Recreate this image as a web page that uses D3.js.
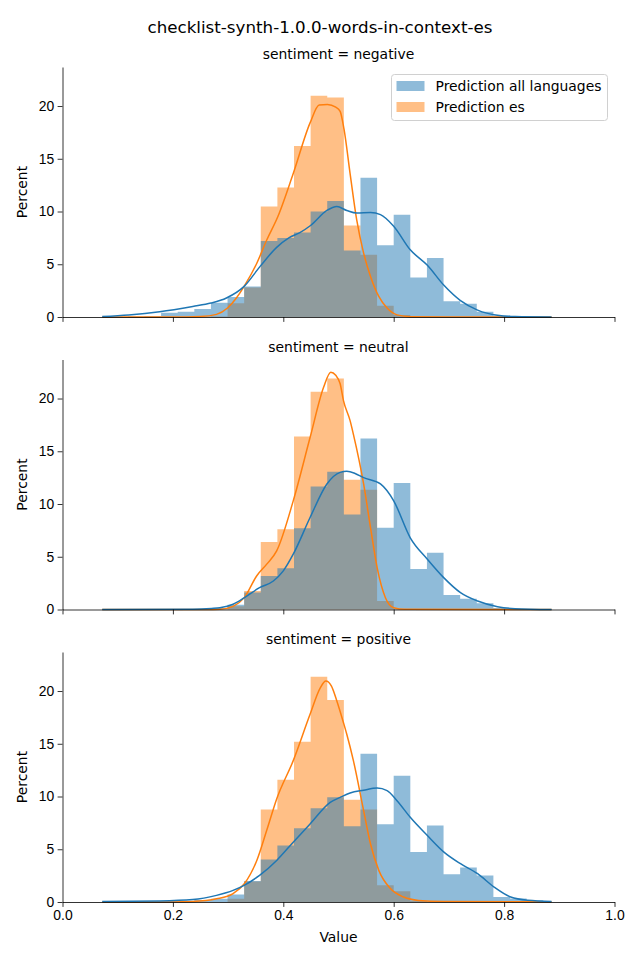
<!DOCTYPE html>
<html lang="en">
<head>
<meta charset="utf-8" />
<title>checklist-synth-1.0.0-words-in-context-es</title>
<style>
html,body{margin:0;background:#fff}
svg{display:block;font-family:"DejaVu Sans",sans-serif}
.axis text{font-size:13.9px;fill:#000}
.axis path,.axis line{stroke:#000;stroke-width:0.8px}
</style>
<script src="https://cdn.jsdelivr.net/npm/d3@7/dist/d3.min.js"></script>
</head>
<body>
<div id="chart"></div>
<script>
/* ---------------- data ---------------- */
const title = "checklist-synth-1.0.0-words-in-context-es";
const facets = ["negative", "neutral", "positive"];
const seriesNames = ["Prediction all languages", "Prediction es"];

// common bin edges (26 edges -> 25 bins)
const binEdges = [0.1184, 0.1485, 0.1786, 0.2087, 0.2388, 0.2689, 0.2990, 0.3291, 0.3592,
  0.3893, 0.4194, 0.4495, 0.4796, 0.5097, 0.5398, 0.5699, 0.6000, 0.6301, 0.6602,
  0.6903, 0.7204, 0.7505, 0.7806, 0.8107, 0.8408, 0.8709];

// percent per bin
const negAll = [0.05, 0.1, 0.4, 0.5, 0.75, 1.35, 1.9, 2.9, 7.2, 7.5, 8.0, 10.0, 11.0, 6.3, 13.2, 6.8, 9.7, 3.75, 5.6, 1.5, 1.25, 0.5, 0.15, 0.05, 0.02];
const negEs  = [0, 0, 0, 0, 0, 0.05, 1.3, 2.8, 10.47, 12.27, 16.2, 20.98, 20.8, 8.68, 5.9, 1.07, 0.2, 0, 0, 0, 0, 0, 0, 0, 0];
const neuAll = [0, 0, 0.02, 0.03, 0.05, 0.15, 0.45, 1.6, 3.18, 3.9, 7.7, 11.66, 13.06, 9.0, 16.2, 7.74, 12.0, 3.85, 5.37, 1.38, 1.03, 0.59, 0.15, 0.05, 0.02];
const neuEs  = [0, 0, 0, 0, 0, 0, 0.3, 1.75, 6.4, 7.6, 16.4, 20.65, 21.9, 12.3, 11.35, 0.8, 0.05, 0, 0, 0, 0, 0, 0, 0, 0];
const posAll = [0.1, 0.1, 0.1, 0.1, 0.2, 0.3, 0.7, 2.0, 4.03, 5.36, 7.0, 8.88, 9.92, 7.18, 14.05, 7.37, 11.98, 4.73, 7.25, 2.62, 3.28, 2.52, 0.47, 0.32, 0.16];
const posEs  = [0, 0, 0, 0, 0, 0, 0.3, 1.95, 8.76, 11.6, 15.2, 21.36, 19.16, 9.7, 8.76, 1.58, 1.01, 0.1, 0, 0, 0, 0, 0, 0, 0];

// KDE curves: [value, percent]
const negAllKde = [[0.072,0.05],[0.12,0.2],[0.176,0.5],[0.236,1.0],[0.269,1.32],[0.297,1.8],[0.329,2.9],[0.358,4.8],[0.388,6.6],[0.41,7.5],[0.43,8.0],[0.45,8.7],[0.479,10.1],[0.497,10.47],[0.515,10.1],[0.533,9.85],[0.558,9.9],[0.576,9.7],[0.6,8.6],[0.63,6.37],[0.661,4.9],[0.691,3.0],[0.721,1.55],[0.752,0.65],[0.788,0.16],[0.82,0.04],[0.886,0.0]];
const negEsKde  = [[0.072,0],[0.2,0],[0.25,0.05],[0.279,0.25],[0.299,0.85],[0.315,1.8],[0.329,2.9],[0.352,5.1],[0.37,7.3],[0.39,9.5],[0.418,13.6],[0.4485,18.4],[0.465,20.1],[0.48,20.15],[0.495,19.9],[0.503,19.5],[0.51,17.8],[0.521,13.6],[0.533,9.2],[0.5455,6.06],[0.558,3.85],[0.573,1.95],[0.588,0.85],[0.606,0.2],[0.63,0.03],[0.7,0],[0.886,0]];
const neuAllKde = [[0.072,0],[0.236,0.02],[0.27,0.1],[0.285,0.17],[0.309,0.5],[0.329,1.1],[0.357,2.07],[0.382,2.7],[0.4,3.66],[0.418,5.24],[0.4485,8.72],[0.479,11.9],[0.503,13.0],[0.515,13.1],[0.53,12.9],[0.5455,12.5],[0.576,11.9],[0.6,10.3],[0.63,6.8],[0.661,4.77],[0.691,3.0],[0.721,1.6],[0.752,0.8],[0.788,0.27],[0.82,0.08],[0.886,0.0]];
const neuEsKde  = [[0.072,0],[0.26,0],[0.285,0.02],[0.309,0.3],[0.329,1.1],[0.352,3.2],[0.37,4.3],[0.388,5.56],[0.418,10.3],[0.4485,16.3],[0.473,21.06],[0.486,22.5],[0.495,22.2],[0.503,21.4],[0.509,19.8],[0.521,17.9],[0.527,16.6],[0.5455,11.9],[0.558,7.77],[0.57,3.97],[0.585,1.12],[0.6,0.17],[0.62,0.02],[0.886,0]];
const posAllKde = [[0.072,0.05],[0.176,0.1],[0.236,0.23],[0.279,0.63],[0.309,1.1],[0.329,1.58],[0.357,2.52],[0.388,3.94],[0.418,5.67],[0.4485,7.4],[0.485,9.45],[0.503,9.92],[0.521,10.34],[0.5455,10.6],[0.57,10.8],[0.588,10.56],[0.606,9.6],[0.63,8.03],[0.661,6.3],[0.691,4.73],[0.721,3.63],[0.752,2.68],[0.782,1.42],[0.812,0.47],[0.843,0.16],[0.886,0.05]];
const posEsKde  = [[0.072,0],[0.2,0.01],[0.236,0.05],[0.279,0.3],[0.309,0.8],[0.329,1.7],[0.352,3.94],[0.37,6.8],[0.388,9.77],[0.418,13.4],[0.4485,17.8],[0.467,20.3],[0.477,20.95],[0.487,20.5],[0.497,19.06],[0.509,17.0],[0.515,15.9],[0.527,13.4],[0.5455,8.67],[0.558,5.5],[0.573,3.0],[0.594,1.27],[0.618,0.47],[0.645,0.15],[0.69,0.05],[0.886,0.02]];

const xTicks = [0, 0.2, 0.4, 0.6, 0.8, 1.0];
const yTicks = [0, 5, 10, 15, 20];

const histAll = [negAll, neuAll, posAll];
const histEs  = [negEs, neuEs, posEs];
const kdeAll  = [negAllKde, neuAllKde, posAllKde];
const kdeEs   = [negEsKde, neuEsKde, posEsKde];

/* ---------------- layout ---------------- */
const W = 640, H = 960;
const blue = "#1f77b4", orange = "#ff7f0e";
const panelTop = [67, 359.5, 652], panelH = 250;

const svg = d3.select("#chart").append("svg").attr("width", W).attr("height", H);

const x = d3.scaleLinear().domain([0, 1]).range([62.5, 614.5]);

svg.append("text").attr("x", 320).attr("y", 33).attr("text-anchor", "middle")
   .style("font-size", "16.7px").text(title);

// bars as one step-area per series, so neighbouring bars show no seams
const steps = vals => vals.map((v, j) => ({e: binEdges[j], v}))
  .concat([{e: binEdges[binEdges.length - 1], v: 0}]);

facets.forEach((f, i) => {
  const top = panelTop[i], bottom = top + panelH;
  const y = d3.scaleLinear().domain([0, 23.7]).range([bottom, top]);
  const g = svg.append("g");

  const area = d3.area().x(d => x(d.e)).y0(y(0)).y1(d => y(d.v)).curve(d3.curveStepAfter);

  // es bars underneath, all-languages bars on top
  g.append("path").datum(steps(histEs[i])).attr("d", area)
    .attr("fill", orange).attr("fill-opacity", 0.5);
  g.append("path").datum(steps(histAll[i])).attr("d", area)
    .attr("fill", blue).attr("fill-opacity", 0.5);

  const line = d3.line().x(d => x(d[0])).y(d => y(d[1])).curve(d3.curveMonotoneX);
  g.append("path").datum(kdeEs[i]).attr("d", line)
    .attr("fill", "none").attr("stroke", orange).attr("stroke-width", 1.5);
  g.append("path").datum(kdeAll[i]).attr("d", line)
    .attr("fill", "none").attr("stroke", blue).attr("stroke-width", 1.5);

  // axes
  const xa = d3.axisBottom(x).tickValues(xTicks).tickSize(4.9).tickSizeOuter(0).tickPadding(3.5)
    .tickFormat(i === 2 ? d3.format(".1f") : () => "");
  g.append("g").attr("class", "axis").attr("transform", `translate(0,${bottom})`).call(xa);
  const ya = d3.axisLeft(y).tickValues(yTicks).tickSize(4.9).tickSizeOuter(0).tickPadding(3.5);
  g.append("g").attr("class", "axis").attr("transform", `translate(${x(0)},0)`).call(ya);

  g.append("text").attr("x", (x(0) + x(1)) / 2).attr("y", top - 8)
    .attr("text-anchor", "middle").style("font-size", "13.9px").text(`sentiment = ${f}`);

  g.append("text").attr("transform", `translate(27,${(top + bottom) / 2}) rotate(-90)`)
    .attr("text-anchor", "middle").style("font-size", "13.9px").text("Percent");
});

svg.append("text").attr("x", (x(0) + x(1)) / 2).attr("y", 942)
   .attr("text-anchor", "middle").style("font-size", "13.9px").text("Value");

/* ---------------- legend ---------------- */
const lg = svg.append("g").attr("transform", "translate(391.5,74.5)");
lg.append("rect").attr("width", 216).attr("height", 46).attr("rx", 3)
  .attr("fill", "#fff").attr("fill-opacity", 0.8).attr("stroke", "#d0d0d0");
[blue, orange].forEach((c, k) => {
  lg.append("rect").attr("x", 5).attr("y", 6.5 + k * 21).attr("width", 28).attr("height", 10)
    .attr("fill", c).attr("fill-opacity", 0.5);
  lg.append("text").attr("x", 44).attr("y", 16.5 + k * 21).style("font-size", "13.9px")
    .text(seriesNames[k]);
});
</script>
</body>
</html>
